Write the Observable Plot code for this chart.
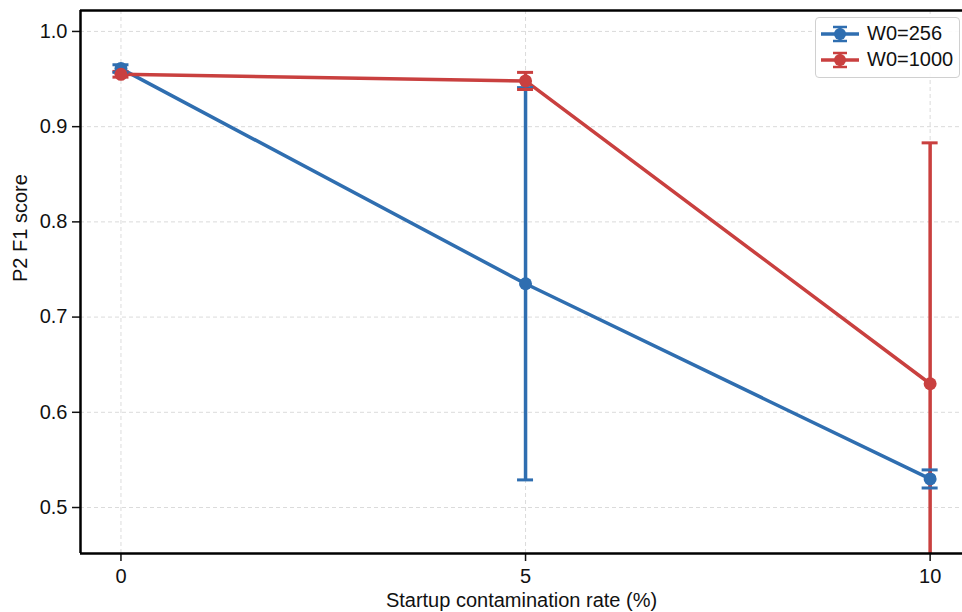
<!DOCTYPE html>
<html>
<head>
<meta charset="utf-8">
<script src="https://cdn.jsdelivr.net/npm/d3@7"></script>
<script src="https://cdn.jsdelivr.net/npm/@observablehq/plot@0.6"></script>
<style>
  html, body { margin: 0; padding: 0; background: #fff; overflow: hidden; }
  #wrap { position: relative; width: 962px; height: 612px; font-family: "Liberation Sans", Arial, sans-serif; }
  #legend { position: absolute; left: 815px; top: 17px; width: 145px; height: 61px; border: 1px solid #d0d0d0; border-radius: 4px; background: rgba(255,255,255,0.9); box-sizing: border-box; }
  .lg { position: absolute; left: 3px; display: flex; align-items: center; font-size: 20px; color: #111; }
  .lg svg { margin-right: 6px; }
</style>
</head>
<body>
<div id="wrap"></div>
<script>
const rates = [0, 5, 10];
const series = ["W0=256", "W0=1000"];
const colors = ["#2f6eb0", "#c9403f"];
const f1_256 = [0.961, 0.735, 0.530];
const err_256 = [0.004, 0.206, 0.0095];
const f1_1000 = [0.955, 0.948, 0.630];
const err_1000 = [0.003, 0.009, 0.253];
const xTicks = [0, 5, 10];
const yTicks = [0.5, 0.6, 0.7, 0.8, 0.9, 1.0];
const xDomain = [-0.5, 10.4];
const yDomain = [0.4517, 1.022];

const data = [];
rates.forEach((r, i) => {
  data.push({series: series[0], x: r, y: f1_256[i], lo: f1_256[i] - err_256[i], hi: f1_256[i] + err_256[i]});
});
rates.forEach((r, i) => {
  data.push({series: series[1], x: r, y: f1_1000[i], lo: f1_1000[i] - err_1000[i], hi: f1_1000[i] + err_1000[i]});
});

const font = "Liberation Sans, Arial, sans-serif";
const chart = Plot.plot({
  width: 962,
  height: 612,
  marginLeft: 80,
  marginRight: 0,
  marginTop: 10,
  marginBottom: 59,
  style: {fontFamily: font, fontSize: "20px", color: "#111", background: "white"},
  x: {domain: xDomain, label: null},
  y: {domain: yDomain, label: null},
  color: {domain: series, range: colors},
  marks: [
    Plot.gridX(xTicks, {stroke: "#ccc", strokeOpacity: 0.7, strokeDasharray: "4,3"}),
    Plot.gridY(yTicks, {stroke: "#ccc", strokeOpacity: 0.7, strokeDasharray: "4,3"}),
    Plot.axisX({ticks: xTicks, tickSize: 8, tickPadding: 7, fontSize: 20, strokeWidth: 1.5, label: null}),
    Plot.axisY({ticks: yTicks, tickSize: 8, tickPadding: 5, fontSize: 20, strokeWidth: 1.5, tickFormat: d3.format(".1f"), label: null}),
    Plot.line(data, {x: "x", y: "y", z: "series", stroke: "series", strokeWidth: 3.5, clip: true}),
    Plot.ruleX(data, {x: "x", y1: "lo", y2: "hi", stroke: "series", strokeWidth: 3.5, clip: true}),
    Plot.ruleY(data, {y: "hi", x1: "x", x2: "x", insetLeft: -8, insetRight: -8, stroke: "series", strokeWidth: 3, clip: true}),
    Plot.ruleY(data, {y: "lo", x1: "x", x2: "x", insetLeft: -8, insetRight: -8, stroke: "series", strokeWidth: 3, clip: true}),
    Plot.dot(data, {x: "x", y: "y", fill: "series", r: 6.5, clip: true}),
    Plot.ruleX([xDomain[0]], {stroke: "#000", strokeWidth: 2.5}),
    Plot.ruleY([yDomain[0]], {stroke: "#000", strokeWidth: 2.5}),
    Plot.ruleY([yDomain[1]], {stroke: "#000", strokeWidth: 2.5}),
    Plot.text(["Startup contamination rate (%)"], {frameAnchor: "bottom", dy: 47, lineAnchor: "middle", fontSize: 20, fill: "#111"}),
    Plot.text(["P2 F1 score"], {frameAnchor: "left", dx: -60, rotate: -90, fontSize: 20, fill: "#111"})
  ]
});

const wrap = document.getElementById("wrap");
wrap.appendChild(chart);

const legend = document.createElement("div");
legend.id = "legend";
series.forEach((s, i) => {
  const row = document.createElement("div");
  row.className = "lg";
  row.style.top = (i === 0 ? 4 : 30) + "px";
  const c = colors[i];
  row.innerHTML = `<svg width="42" height="22"><line x1="2" y1="11" x2="40" y2="11" stroke="${c}" stroke-width="3.5"/><line x1="21" y1="4" x2="21" y2="18" stroke="${c}" stroke-width="3"/><line x1="14" y1="4" x2="28" y2="4" stroke="${c}" stroke-width="2.5"/><line x1="14" y1="18" x2="28" y2="18" stroke="${c}" stroke-width="2.5"/><circle cx="21" cy="11" r="6" fill="${c}"/></svg><span>${s}</span>`;
  legend.appendChild(row);
});
wrap.appendChild(legend);
</script>
</body>
</html>
